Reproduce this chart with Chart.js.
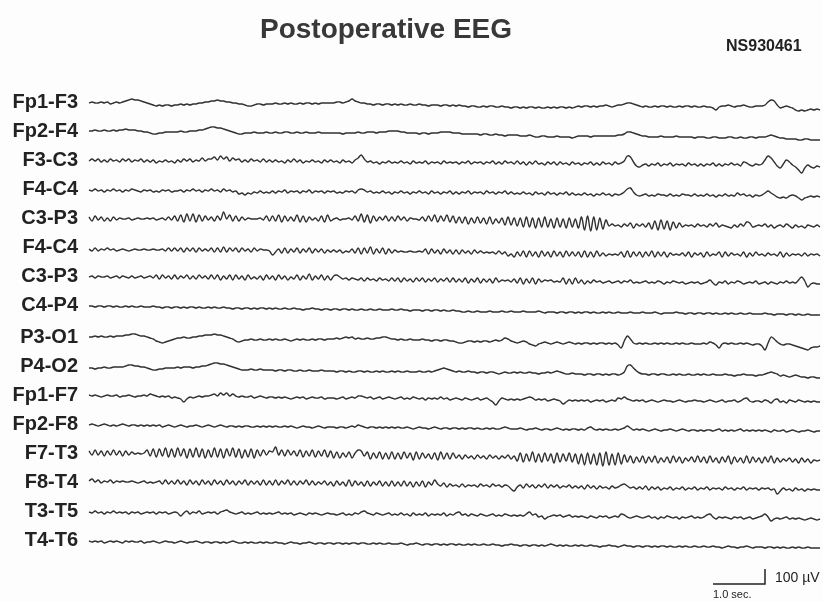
<!DOCTYPE html>
<html>
<head>
<meta charset="utf-8">
<script src="https://cdn.jsdelivr.net/npm/chart.js@4/dist/chart.umd.min.js"></script>
<style>
  html, body { margin: 0; padding: 0; background: #fdfdfd; }
  #wrap { width: 823px; height: 602px; }
</style>
</head>
<body>
<div id="wrap"><canvas id="eeg" width="823" height="602"></canvas></div>
<script>
// channel names, top to bottom
const channelLabels = ["Fp1-F3", "Fp2-F4", "F3-C3", "F4-C4", "C3-P3", "F4-C4", "C3-P3", "C4-P4",
                       "P3-O1", "P4-O2", "Fp1-F7", "Fp2-F8", "F7-T3", "F8-T4", "T3-T5", "T4-T6"];

// traces (1 unit = 1/15 of the 100 uV bar), 17 samples per second
const fp1F3 = [
  -1,0,-1,-1,0,-1,0,-2,-1,0,-1,0,1,2,3,2,2,1,0,-1,
  -2,-3,-4,-3,-4,-3,-3,-4,-3,-3,-2,-3,-2,-3,-2,-2,-1,-1,0,0,
  1,1,2,1,1,0,0,-1,-1,-2,-2,-3,-4,-4,-3,-2,-2,-3,-2,-2,
  -2,-1,-2,-2,-1,-2,-1,-2,-2,-1,-2,-1,-1,-2,-1,-2,-1,-1,-1,-1,
  -1,0,0,-1,0,1,3,1,0,-1,-1,-2,-2,-3,-2,-2,-3,-2,-2,-3,
  -2,-3,-2,-3,-3,-2,-3,-3,-2,-3,-3,-4,-3,-3,-3,-4,-3,-3,-4,-3,
  -4,-3,-4,-4,-5,-4,-4,-5,-5,-4,-5,-4,-4,-5,-5,-4,-5,-5,-6,-5,
  -5,-6,-5,-6,-5,-5,-6,-5,-6,-6,-5,-6,-5,-6,-5,-5,-6,-5,-6,-5,
  -4,-5,-4,-4,-5,-4,-5,-4,-4,-3,-4,-5,-4,-3,-3,-2,-1,-1,-2,-3,
  -4,-5,-4,-5,-5,-4,-5,-4,-4,-5,-4,-5,-5,-4,-5,-4,-4,-5,-4,-5,
  -5,-4,-5,-5,-6,-8,-5,-4,-4,-3,-4,-5,-4,-4,-3,-4,-5,-5,-4,-4,
  -4,-3,0,2,1,-3,-6,-5,-4,-5,-6,-8,-9,-8,-9,-8,-7,-8,-7,-8
];
const fp2F4 = [
  0,0,1,0,0,1,0,0,1,0,1,1,2,1,1,1,0,0,-1,-1,
  -2,-3,-3,-2,-2,-1,-1,-1,-1,-1,0,-1,-1,0,0,0,1,1,2,3,
  4,4,3,3,2,1,0,-1,-2,-3,-3,-2,-2,-2,-1,-2,-2,-2,-1,-2,
  -2,-1,-2,-2,-1,-1,-2,-2,-1,-2,-2,-1,-2,-2,-2,-1,-2,-2,-2,-2,
  -2,-2,-2,-3,-2,-2,-2,-2,-1,-2,-2,-1,-1,-1,-2,-1,-1,-1,0,0,
  0,0,-1,-1,-2,-2,-2,-2,-3,-2,-2,-3,-2,-2,-2,-1,-1,-1,-1,-2,
  -2,-2,-3,-3,-3,-3,-3,-3,-4,-3,-3,-4,-4,-3,-4,-4,-5,-4,-4,-4,
  -4,-5,-5,-5,-4,-5,-6,-6,-5,-5,-6,-6,-6,-5,-6,-6,-6,-6,-7,-6,
  -5,-5,-5,-5,-6,-5,-5,-5,-5,-5,-5,-5,-5,-4,-4,-3,-1,-1,-2,-3,
  -4,-5,-5,-6,-6,-6,-6,-5,-6,-6,-6,-6,-5,-6,-6,-6,-6,-6,-7,-6,
  -6,-6,-7,-7,-6,-6,-7,-7,-7,-6,-6,-7,-7,-6,-7,-7,-6,-6,-7,-6,
  -6,-6,-5,-4,-5,-6,-7,-7,-8,-8,-8,-8,-9,-9,-8,-8,-9,-9,-9,-9
];
const f3C3 = [
  -1,1,-1,1,-2,0,-2,1,-1,0,-2,1,-1,1,-2,0,-1,1,-2,0,
  -2,0,-3,-1,-2,0,-2,-1,-3,0,-2,1,-1,1,-2,0,-1,2,-1,1,
  1,3,0,4,1,3,-1,2,0,1,-2,0,-2,1,-1,0,-2,1,-2,0,
  -2,0,-2,-1,-3,0,-2,1,-2,0,-3,-1,-2,0,-2,-1,-3,0,-2,0,
  -2,-1,-3,0,-2,-1,-3,0,2,5,1,-2,-1,-3,-2,-4,-2,-3,-1,-3,
  -2,-3,-1,-3,-2,-4,-1,-3,-2,-3,-1,-4,-2,-3,-2,-4,-1,-3,-2,-3,
  -2,-4,-2,-3,-1,-4,-2,-3,-2,-4,-2,-3,-1,-4,-2,-4,-1,-3,-2,-4,
  -1,-4,-2,-5,-2,-4,-1,-4,-3,-5,-2,-4,-2,-5,-2,-4,-3,-5,-2,-4,
  -3,-5,-3,-4,-2,-5,-3,-5,-2,-4,-3,-5,-2,-4,-3,-1,4,3,-2,-6,
  -7,-5,-4,-6,-4,-5,-3,-6,-4,-5,-3,-6,-4,-5,-4,-6,-3,-5,-4,-6,
  -4,-6,-4,-5,-3,-6,-4,-6,-4,-5,-3,-5,-4,-6,-2,-3,-5,-6,-4,-5,
  -4,0,4,2,-2,-6,-8,-4,0,-2,-5,-7,-10,-13,-8,-5,-7,-8,-6,-7
];
const f4C4 = [
  -1,-2,0,-2,-1,-3,-1,-2,0,-2,-1,-3,-1,-2,0,-1,-2,-3,-1,-2,
  -1,-3,-2,-3,-1,-2,-1,-3,-2,-2,-1,-3,-1,-2,0,-2,-1,-3,-1,-2,
  0,-2,-1,-3,0,-2,-1,-3,-2,-5,-4,-6,-4,-5,-3,-4,-2,-4,-3,-4,
  -2,-4,-2,-3,-1,-4,-2,-3,-2,-4,-2,-3,-1,-4,-2,-3,-2,-4,-2,-3,
  -2,-4,-3,-4,-2,-3,-2,-4,-1,0,-1,-3,-2,-4,-3,-4,-2,-4,-3,-5,
  -3,-4,-2,-4,-3,-5,-3,-4,-2,-4,-3,-5,-2,-4,-3,-5,-3,-4,-2,-5,
  -3,-5,-3,-4,-2,-5,-3,-4,-3,-5,-2,-4,-3,-5,-3,-4,-2,-5,-3,-5,
  -4,-5,-3,-5,-4,-6,-3,-5,-4,-6,-3,-5,-4,-6,-4,-5,-3,-6,-4,-6,
  -5,-6,-4,-6,-5,-7,-5,-6,-4,-6,-5,-7,-5,-6,-5,-3,0,1,-3,-6,
  -7,-6,-5,-7,-6,-7,-5,-6,-6,-7,-5,-7,-6,-7,-5,-6,-6,-7,-5,-7,
  -6,-7,-5,-7,-6,-8,-6,-7,-5,-7,-6,-7,-4,-6,-5,-7,-6,-8,-6,-7,
  -6,-4,-2,-4,-6,-8,-9,-8,-9,-7,-6,-7,-9,-11,-9,-8,-7,-8,-7,-8
];
const c3P3 = [
  1,-3,2,-2,1,-3,0,-3,1,-2,0,-1,-1,0,-2,-1,0,-1,-1,0,
  -1,0,-2,-1,0,-2,1,-2,2,-3,3,-4,4,-3,4,-4,3,-3,2,-2,
  1,-3,2,-2,6,-1,3,-3,2,-3,1,-2,0,-1,-1,-1,0,-2,2,-3,
  2,-3,3,-4,2,-3,1,-3,3,-4,2,-4,1,-2,0,-3,2,-4,3,-3,
  -1,0,-2,-1,-1,0,-2,2,-3,4,-4,3,-5,2,-3,1,-2,2,-3,1,
  -3,2,-2,1,-3,0,-1,-1,-2,1,-3,2,-3,3,-4,2,-3,3,-4,2,
  -5,1,-5,1,-6,0,-5,1,-5,0,-6,1,-6,-1,-5,0,-7,1,-7,0,
  -8,0,-9,1,-9,0,-10,0,-9,1,-9,-1,-10,0,-9,-1,-10,0,-9,-1,
  -10,1,-12,2,-13,1,-12,0,-11,-2,-8,-6,-8,-7,-9,-6,-8,-5,-10,-6,
  -8,-6,-9,-5,-11,-3,-12,-2,-11,-3,-12,-4,-10,-5,-9,-7,-8,-7,-9,-6,
  -8,-7,-9,-6,-8,-5,-9,-7,-8,-9,-10,-7,-9,-6,-8,-4,-5,-9,-8,-7,
  -8,-6,-9,-7,-10,-8,-7,-9,-6,-8,-10,-7,-9,-8,-10,-7,-8,-9,-7,-9
];
const f4C4b = [
  -2,-4,-1,-4,-2,-3,-1,-3,-2,-4,-3,-2,-3,-4,-3,-2,-3,-3,-2,-3,
  -3,-2,-3,-3,-2,-4,-1,-4,-1,-4,-1,-5,-1,-4,-1,-5,-1,-4,-2,-4,
  -1,-5,-1,-5,0,-5,-1,-4,-1,-5,-1,-4,-2,-5,-1,-4,-2,-3,-3,-4,
  -8,-5,-2,-6,-1,-6,-2,-5,-1,-6,-2,-5,-1,-6,-2,-5,-2,-6,-3,-5,
  -3,-5,-3,-6,-4,-5,-2,-6,-1,-7,-1,-6,0,-7,-2,-6,-1,-7,-2,-6,
  -3,-5,-4,-5,-5,-4,-5,-5,-4,-5,-2,-7,-2,-6,-3,-7,-2,-6,-3,-7,
  -3,-7,-3,-6,-4,-7,-3,-6,-4,-6,-5,-6,-5,-7,-4,-7,-5,-9,-7,-10,
  -5,-9,-4,-10,-4,-9,-5,-10,-4,-9,-5,-10,-4,-9,-5,-10,-4,-9,-5,-9,
  -5,-10,-4,-10,-5,-10,-4,-9,-6,-9,-7,-8,-7,-8,-5,-10,-4,-10,-5,-9,
  -5,-10,-5,-9,-4,-10,-5,-9,-5,-10,-6,-8,-7,-8,-6,-9,-5,-10,-6,-8,
  -6,-10,-5,-9,-7,-8,-5,-10,-5,-9,-6,-8,-7,-9,-5,-10,-6,-9,-5,-8,
  -7,-9,-6,-8,-7,-9,-5,-10,-6,-9,-7,-8,-7,-9,-6,-9,-7,-8,-7,-9
];
const c3P3b = [
  -1,0,-2,0,-1,-1,0,-2,-1,0,-2,0,-1,-2,0,-2,-1,0,-2,-1,
  0,-2,1,-3,1,-2,0,-3,1,-3,0,-2,1,-3,0,-3,1,-2,0,-3,
  1,-3,1,-4,0,-3,1,-4,1,-3,0,-4,1,-3,-1,-3,0,-4,1,-3,
  0,-4,1,-3,0,-4,-1,-3,1,-4,0,-3,2,-4,0,-3,1,-4,0,-4,
  0,1,-1,-3,-2,-4,-2,-3,-4,-2,-5,-2,-4,-3,-5,-2,-4,-3,-5,-2,
  -5,-2,-6,-2,-5,-3,-6,-2,-5,-2,-6,-3,-5,-2,-6,-3,-5,-2,-6,-2,
  -6,-3,-6,-2,-7,-3,-6,-2,-7,-3,-6,-3,-7,-2,-6,-4,-5,-4,-6,-3,
  -7,-2,-8,-3,-7,-2,-8,-3,-6,-4,-5,-4,-6,-5,-6,-2,-8,-3,-8,-2,
  -7,-4,-8,-5,-7,-4,-6,-5,-7,-6,-5,-7,-6,-5,-7,-5,-6,-4,-7,-6,
  -7,-6,-5,-7,-6,-7,-5,-6,-8,-6,-7,-5,-6,-7,-6,-8,-7,-6,-7,-6,
  -8,-7,-6,-4,-7,-9,-6,-7,-5,-8,-6,-7,-5,-6,-8,-7,-6,-7,-5,-8,
  -7,-6,-8,-6,-7,-8,-6,-7,-5,-7,-6,-7,-4,-1,-5,-11,-8,-7,-8,-8
];
const c4P4 = [
  -1,-1,-2,-1,-1,-2,-1,-1,-2,-1,-2,-2,-1,-2,-1,-2,-2,-1,-2,-2,
  -2,-1,-2,-2,-3,-2,-2,-3,-2,-2,-3,-2,-3,-2,-2,-3,-2,-3,-3,-2,
  -3,-2,-3,-3,-2,-3,-3,-4,-3,-3,-4,-3,-3,-4,-3,-4,-3,-3,-4,-3,
  -4,-3,-4,-4,-3,-4,-4,-3,-4,-4,-5,-4,-4,-3,-4,-4,-5,-4,-4,-5,
  -4,-4,-5,-4,-4,-5,-4,-5,-5,-4,-5,-5,-4,-5,-5,-4,-5,-5,-5,-4,
  -5,-5,-4,-5,-5,-6,-5,-5,-5,-6,-5,-5,-6,-5,-5,-6,-5,-6,-6,-5,
  -6,-6,-7,-7,-6,-7,-7,-6,-7,-7,-7,-6,-7,-7,-7,-6,-7,-7,-6,-7,
  -7,-7,-6,-7,-7,-7,-7,-6,-7,-8,-7,-7,-7,-8,-7,-7,-8,-7,-7,-8,
  -7,-8,-7,-7,-8,-7,-8,-8,-7,-8,-7,-8,-8,-7,-8,-8,-8,-7,-8,-8,
  -8,-7,-8,-8,-8,-7,-8,-9,-8,-8,-8,-8,-7,-8,-8,-9,-8,-8,-9,-8,
  -8,-9,-8,-8,-9,-8,-9,-9,-8,-9,-8,-9,-9,-8,-9,-9,-8,-9,-9,-9,
  -9,-8,-9,-9,-10,-9,-9,-9,-10,-9,-9,-10,-9,-10,-10,-9,-10,-10,-10,-10
];
const p3O1 = [
  0,0,1,0,1,0,0,1,0,1,1,1,2,2,3,3,2,1,1,0,
  -1,-2,-4,-5,-6,-5,-4,-3,-2,-1,-1,0,-1,-1,0,0,1,1,2,2,
  2,3,2,2,1,0,-1,-2,-4,-5,-4,-3,-3,-2,-3,-3,-2,-3,-3,-2,
  -3,-2,-3,-3,-2,-3,-4,-3,-2,-3,-2,-3,-3,-2,-3,-2,-2,-3,-2,-2,
  -2,-1,-2,-1,0,-1,0,-2,-1,-2,-2,-1,-2,-2,-1,-1,0,0,-1,-2,
  -2,-3,-2,-3,-3,-2,-3,-3,-3,-2,-3,-3,-4,-3,-3,-4,-3,-3,-4,-4,
  -5,-6,-6,-5,-4,-4,-5,-4,-5,-4,-4,-5,-4,-3,-4,-3,-1,-2,-4,-5,
  -6,-5,-4,-5,-7,-8,-9,-7,-6,-5,-6,-7,-6,-5,-6,-7,-6,-5,-6,-7,
  -6,-7,-6,-6,-7,-6,-7,-6,-6,-7,-6,-7,-6,-8,-11,-4,1,-2,-6,-7,
  -6,-7,-6,-7,-7,-6,-7,-6,-7,-6,-7,-7,-6,-7,-6,-7,-7,-6,-7,-7,
  -7,-6,-7,-5,-6,-8,-11,-7,-6,-7,-6,-7,-7,-6,-7,-6,-7,-8,-7,-7,
  -9,-13,-6,0,-2,-5,-7,-8,-7,-7,-8,-9,-10,-11,-12,-13,-11,-10,-10,-9
];
const p4O2 = [
  -2,-2,-3,-2,-2,-1,-2,-2,-1,-1,-1,-1,0,1,1,0,0,-1,-1,-2,
  -3,-4,-4,-3,-3,-2,-2,-2,-2,-1,-2,-1,-1,-1,-2,-1,-1,0,0,1,
  2,3,3,2,2,1,0,-1,-2,-3,-4,-4,-4,-3,-4,-4,-3,-4,-4,-4,
  -4,-5,-4,-4,-5,-4,-4,-5,-5,-4,-5,-5,-4,-5,-5,-5,-4,-5,-5,-5,
  -5,-6,-5,-5,-6,-5,-6,-6,-5,-5,-6,-5,-6,-6,-5,-6,-5,-6,-6,-5,
  -6,-5,-6,-6,-5,-6,-6,-6,-5,-6,-6,-5,-6,-5,-4,-3,-2,-3,-4,-5,
  -6,-5,-6,-6,-5,-6,-6,-7,-6,-6,-7,-6,-6,-7,-8,-7,-6,-7,-7,-6,
  -7,-6,-7,-7,-6,-7,-7,-8,-7,-7,-6,-7,-6,-5,-6,-7,-8,-8,-7,-8,
  -8,-8,-9,-8,-8,-9,-8,-8,-9,-8,-9,-8,-8,-9,-8,-6,0,1,-2,-5,
  -7,-8,-8,-9,-8,-8,-9,-8,-8,-9,-9,-8,-9,-8,-9,-9,-8,-9,-9,-8,
  -9,-8,-9,-9,-8,-9,-9,-9,-8,-9,-9,-10,-9,-9,-8,-9,-9,-9,-10,-9,
  -9,-8,-7,-6,-7,-8,-10,-9,-10,-11,-10,-9,-10,-11,-11,-12,-11,-11,-12,-12
];
const fp1F7 = [
  0,-1,0,-1,-2,-1,0,-1,-1,0,-2,-1,-1,0,-1,-2,-1,-1,0,-1,
  1,0,-1,-2,-1,-2,-1,-3,-2,-3,-4,-7,-4,-2,-3,-2,-1,-2,-1,-1,
  0,1,-1,2,0,2,-1,1,-1,-2,-1,-2,-2,-1,-3,-2,-1,-2,-3,-2,
  -2,-3,-2,-3,-2,-3,-4,-3,-2,-3,-2,-4,-3,-2,-3,-3,-2,-4,-3,-3,
  -3,-4,-3,-2,-4,-3,-2,-3,-1,-1,-2,-3,-2,-4,-3,-2,-4,-3,-2,-3,
  -4,-3,-2,-4,-3,-4,-2,-3,-4,-3,-5,-3,-4,-3,-4,-2,-4,-3,-5,-4,
  -3,-4,-5,-3,-4,-5,-4,-3,-5,-4,-3,-5,-7,-10,-6,-3,-4,-5,-4,-5,
  -4,-5,-4,-3,-2,-3,-5,-4,-5,-4,-6,-5,-4,-5,-6,-9,-7,-5,-6,-5,
  -6,-5,-6,-5,-7,-6,-5,-6,-5,-7,-6,-5,-6,-3,-4,-2,-4,-5,-6,-5,
  -6,-5,-7,-6,-5,-6,-7,-6,-5,-6,-6,-7,-6,-5,-6,-7,-6,-6,-5,-6,
  -6,-7,-6,-5,-6,-7,-6,-5,-7,-6,-6,-5,-7,-6,-4,-3,-6,-7,-6,-6,
  -7,-5,-6,-8,-5,-4,-7,-6,-8,-5,-6,-7,-5,-6,-7,-6,-7,-6,-7,-7
];
const fp2F8 = [
  -1,0,-1,-2,-1,0,-1,-2,-1,-2,-1,0,-1,-2,-1,-1,-2,-1,-2,-1,
  -2,-1,-2,-1,-3,-2,-1,-2,-3,-2,-1,-2,-3,-2,-2,-1,-2,-3,-2,-1,
  -2,-3,-2,-1,-2,-3,-2,-2,-3,-2,-3,-2,-2,-3,-3,-2,-3,-2,-3,-2,
  -3,-2,-3,-3,-2,-3,-2,-3,-4,-3,-2,-3,-3,-4,-3,-2,-3,-4,-3,-3,
  -3,-4,-3,-3,-4,-3,-2,-3,-1,-2,-3,-4,-3,-3,-4,-3,-4,-3,-4,-3,
  -4,-3,-4,-4,-3,-4,-5,-4,-3,-4,-4,-5,-4,-3,-4,-5,-4,-4,-5,-4,
  -4,-5,-4,-5,-4,-4,-5,-4,-5,-5,-4,-5,-4,-5,-5,-4,-3,-4,-5,-5,
  -5,-4,-5,-6,-5,-5,-4,-5,-6,-5,-5,-6,-5,-4,-5,-6,-5,-6,-5,-5,
  -6,-5,-6,-4,-3,-5,-6,-5,-6,-5,-6,-6,-5,-6,-5,-4,-2,-4,-6,-5,
  -6,-5,-6,-7,-6,-5,-6,-7,-6,-6,-5,-6,-7,-6,-5,-6,-7,-6,-6,-7,
  -6,-7,-6,-6,-7,-6,-5,-7,-6,-7,-6,-7,-6,-5,-7,-6,-7,-6,-7,-6,
  -7,-6,-7,-8,-6,-7,-7,-6,-8,-7,-6,-7,-8,-7,-7,-6,-7,-8,-7,-7
];
const f7T3 = [
  2,-2,3,-2,2,-3,2,-2,3,-2,2,-3,2,-2,1,-1,0,-1,0,3,
  -3,4,-4,4,-3,5,-4,4,-4,5,-3,4,-5,4,-4,5,-4,4,-5,3,
  -4,5,-4,4,-5,4,-3,5,-4,4,-5,3,-4,4,-5,3,-3,3,-2,2,
  1,6,-2,3,-3,3,-2,2,-3,3,-4,2,-3,3,-4,2,-3,3,-4,2,
  -5,1,-5,0,-4,1,-5,0,3,2,-3,1,-6,0,-5,1,-6,0,-6,1,
  -6,0,-6,1,-5,0,-7,1,-6,0,-5,-1,-6,0,-7,1,-6,0,-6,0,
  -5,-2,-6,-2,-5,-3,-6,-2,-5,-3,-6,-2,-5,-3,-6,-3,-5,-2,-6,-3,
  -8,0,-9,-1,-8,1,-9,-1,-9,0,-8,-1,-10,0,-9,-1,-8,0,-9,-1,
  -11,-1,-12,0,-11,-1,-12,0,-13,1,-12,-1,-12,0,-11,-2,-9,-3,-10,-4,
  -9,-3,-10,-4,-9,-3,-10,-5,-9,-4,-10,-3,-9,-4,-10,-5,-8,-4,-9,-3,
  -9,-4,-10,-3,-9,-5,-10,-4,-9,-3,-11,-4,-9,-5,-10,-3,-10,-4,-9,-5,
  -10,-4,-9,-3,-10,-5,-9,-6,-8,-5,-9,-6,-10,-5,-9,-6,-10,-7,-8,-7
];
const f8T4 = [
  1,3,0,2,-1,1,0,2,-1,1,0,1,0,0,1,0,-1,0,1,-1,
  0,-1,0,1,-2,2,-2,1,-2,2,-2,1,-3,2,-2,1,-3,2,-2,1,
  -3,2,-2,1,-3,2,-2,1,-3,1,-2,2,-3,1,-2,1,-3,2,-3,1,
  -3,2,-3,1,-2,2,-3,1,-3,1,-2,2,-3,1,-3,0,-2,1,-3,0,
  -4,1,-3,0,-4,2,-4,1,-3,0,-4,1,-4,0,-3,1,-4,0,-4,1,
  -4,0,-4,1,-4,0,-5,0,-4,1,-5,0,-3,2,-2,-4,-1,-5,-2,-4,
  -3,-5,-2,-5,-3,-4,-3,-5,-2,-4,-3,-5,-2,-4,-3,-5,-3,-4,-7,-9,
  -5,-3,-6,-2,-5,-3,-6,-3,-5,-2,-6,-3,-5,-3,-6,-4,-5,-3,-6,-4,
  -6,-4,-7,-3,-6,-4,-7,-4,-6,-5,-7,-4,-6,-5,-3,-2,-4,-6,-5,-7,
  -5,-7,-4,-8,-5,-7,-5,-8,-6,-7,-5,-8,-6,-7,-5,-8,-6,-7,-5,-8,
  -6,-7,-5,-8,-6,-7,-6,-8,-5,-7,-6,-8,-6,-7,-5,-8,-6,-7,-6,-8,
  -6,-7,-6,-8,-7,-12,-9,-6,-8,-7,-9,-6,-8,-7,-9,-7,-8,-7,-8,-8
];
const t3T5 = [
  -1,-2,0,-2,-1,-3,-1,-2,0,-2,-1,-2,-1,-3,-1,-2,-1,-3,-2,-1,
  -2,-1,-3,-1,-2,-1,-3,-2,-1,-2,-5,-2,0,-3,-1,-2,0,-3,-2,-1,
  -2,-1,-3,-1,0,1,-1,-2,-3,-2,-1,-3,-2,-3,-2,-1,-3,-2,-3,-2,
  -3,-2,-1,-3,-2,-3,-2,-4,-3,-2,-3,-4,-2,-3,-2,-3,-4,-3,-2,-3,
  -3,-4,-3,-2,-4,-3,-4,-2,-3,-1,0,-2,-3,-4,-2,-3,-4,-3,-2,-4,
  -3,-4,-2,-4,-3,-5,-2,-4,-3,-4,-2,-5,-3,-4,-3,-4,-2,-5,-3,-4,
  -2,-1,-4,-3,-5,-3,-4,-5,-3,-4,-5,-4,-3,-5,-4,-5,-3,-4,-5,-4,
  -5,-4,-5,-3,-1,-4,-3,-6,-5,-8,-6,-5,-4,-5,-4,-6,-5,-4,-6,-5,
  -6,-5,-6,-7,-5,-6,-7,-5,-6,-5,-7,-6,-5,-6,-3,-4,-6,-7,-6,-5,
  -6,-7,-6,-5,-7,-6,-8,-6,-7,-5,-6,-7,-6,-8,-6,-7,-6,-5,-7,-6,
  -7,-6,-4,-3,-6,-8,-6,-7,-6,-7,-8,-6,-7,-6,-8,-7,-6,-8,-7,-6,
  -5,-3,-6,-10,-8,-7,-8,-7,-6,-8,-7,-8,-7,-8,-9,-8,-7,-8,-9,-8
];
const t4T6 = [
  -1,-2,-1,-2,-1,-3,-2,-1,-2,-1,-2,-3,-1,-2,-1,-2,-2,-1,-3,-2,
  -2,-1,-2,-3,-2,-1,-2,-2,-3,-2,-1,-2,-3,-2,-2,-1,-2,-3,-2,-2,
  -3,-2,-2,-3,-2,-3,-2,-1,-2,-3,-3,-2,-3,-2,-3,-3,-2,-3,-2,-3,
  -3,-2,-3,-3,-4,-3,-2,-3,-3,-4,-3,-3,-2,-3,-4,-3,-3,-4,-3,-3,
  -4,-3,-3,-4,-3,-4,-3,-3,-4,-3,-3,-4,-4,-3,-4,-3,-4,-4,-3,-4,
  -4,-4,-3,-4,-5,-4,-4,-3,-4,-5,-4,-4,-5,-4,-4,-5,-4,-5,-4,-4,
  -5,-4,-5,-5,-4,-5,-4,-5,-5,-4,-5,-5,-4,-5,-5,-6,-5,-5,-4,-5,
  -5,-6,-5,-5,-6,-5,-5,-6,-5,-6,-5,-4,-5,-6,-5,-6,-5,-6,-6,-5,
  -6,-5,-6,-6,-5,-6,-6,-7,-6,-6,-5,-6,-6,-7,-6,-5,-6,-6,-7,-6,
  -6,-7,-6,-6,-7,-6,-7,-6,-6,-7,-6,-7,-7,-6,-7,-6,-7,-7,-6,-7,
  -7,-6,-7,-7,-6,-7,-7,-8,-7,-6,-7,-7,-8,-7,-7,-6,-7,-8,-7,-7,
  -7,-8,-7,-7,-8,-7,-8,-7,-8,-8,-7,-8,-7,-8,-8,-7,-8,-8,-8,-8
];

const channels = [fp1F3, fp2F4, f3C3, f4C4, c3P3, f4C4b, c3P3b, c4P4,
                  p3O1, p4O2, fp1F7, fp2F8, f7T3, f8T4, t3T5, t4T6];

const samplesPerSec = 17;
const uvPerUnit = 100 / 15;      // calibration: 100 uV bar is 15 units tall
const scaleBarSec = 1.0;
const scaleBarUv = 100;

// layout (units = px on the page)
const firstTrace = 22, traceSpacing = 29, groupGap = 3;
function baseline(i) {
  return -(firstTrace + i * traceSpacing + (i >= 8 ? groupGap : 0));
}

const datasets = channels.map((vals, i) => ({
  label: channelLabels[i],
  data: vals.map((v, k) => ({ x: k / samplesPerSec, y: baseline(i) + v })),
  borderColor: '#303030',
  borderWidth: 1.4,
  pointRadius: 0,
  tension: 0.35,
  fill: false
}));

const paperPlugin = {
  id: 'paper',
  beforeDraw(chart) {
    const ctx = chart.ctx;
    ctx.save();
    ctx.fillStyle = '#fdfdfd';
    ctx.fillRect(0, 0, chart.width, chart.height);
    ctx.restore();
  },
  afterDraw(chart) {
    const ctx = chart.ctx;
    const xs = chart.scales.x, ys = chart.scales.y;
    ctx.save();
    // title + record number
    ctx.fillStyle = '#383838';
    ctx.textAlign = 'center';
    ctx.textBaseline = 'alphabetic';
    ctx.font = 'bold 28px "Liberation Sans", Arial, sans-serif';
    ctx.fillText('Postoperative EEG', 386, 38);
    ctx.textAlign = 'left';
    ctx.font = 'bold 16px "Liberation Sans", Arial, sans-serif';
    ctx.fillStyle = '#222';
    ctx.fillText('NS930461', 726, 51);

    // calibration bar
    const barEnd = 13.0, barY = -504;
    const x1 = xs.getPixelForValue(barEnd - scaleBarSec);
    const x2 = xs.getPixelForValue(barEnd);
    const y1 = ys.getPixelForValue(barY);
    const y2 = ys.getPixelForValue(barY + scaleBarUv / uvPerUnit);
    ctx.strokeStyle = '#222';
    ctx.lineWidth = 1.5;
    ctx.beginPath();
    ctx.moveTo(x1, y1);
    ctx.lineTo(x2, y1);
    ctx.lineTo(x2, y2);
    ctx.stroke();
    ctx.fillStyle = '#222';
    ctx.font = '14px "Liberation Sans", Arial, sans-serif';
    ctx.fillText('100 \u00b5V', x2 + 10, y1 - 2);
    ctx.font = '11px "Liberation Sans", Arial, sans-serif';
    ctx.fillText('1.0 sec.', x1, y1 + 14);
    ctx.restore();
  }
};

new Chart(document.getElementById('eeg'), {
  type: 'line',
  data: { datasets: datasets },
  options: {
    responsive: false,
    animation: false,
    devicePixelRatio: 1,
    layout: { padding: { top: 80, bottom: 5, left: 0, right: 2 } },
    plugins: { legend: { display: false }, tooltip: { enabled: false }, title: { display: false } },
    scales: {
      x: {
        type: 'linear',
        display: false,
        min: -3 / 52,
        max: 14.077
      },
      y: {
        type: 'linear',
        min: -517,
        max: 0,
        grid: { display: false, drawTicks: false },
        border: { display: false },
        afterFit: s => { s.width = 86; s.paddingTop = 0; s.paddingBottom = 0; },
        afterBuildTicks: s => { s.ticks = channelLabels.map((l, i) => ({ value: baseline(i) })); },
        ticks: {
          autoSkip: false,
          padding: 8,
          color: '#222',
          font: { family: '"Liberation Sans", Arial, sans-serif', size: 20, weight: 'bold' },
          callback: (v, idx) => channelLabels[idx]
        }
      }
    }
  },
  plugins: [paperPlugin]
});
</script>
</body>
</html>
